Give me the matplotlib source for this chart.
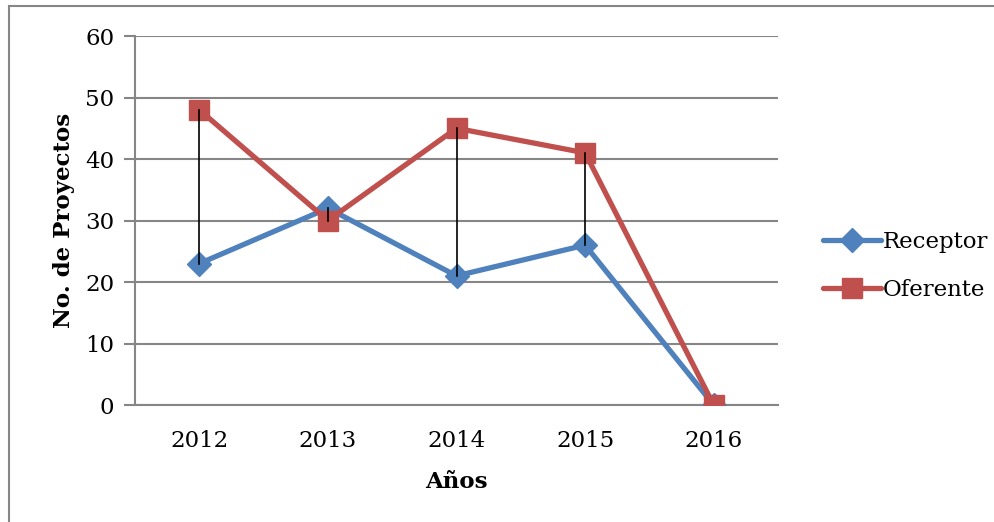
import matplotlib.pyplot as plt
from matplotlib.patches import Rectangle

years = ["2012", "2013", "2014", "2015", "2016"]
receptor = [23, 32, 21, 26, 0]
oferente = [48, 30, 45, 41, 0]

plt.rcParams['font.family'] = ['DejaVu Serif']

fig = plt.figure(figsize=(9.95, 5.22), dpi=100)
ax = fig.add_axes([0.1357, 0.2241, 0.6462, 0.7069])

x = range(len(years))

# high-low lines
for i in x:
    ax.plot([i, i], [min(receptor[i], oferente[i]), max(receptor[i], oferente[i])],
            color="black", lw=1.2, zorder=4)

ax.plot(x, receptor, color="#4F81BD", lw=3.8, marker="D", markersize=12,
        label="Receptor", zorder=3, solid_capstyle="round")
ax.plot(x, oferente, color="#C0504D", lw=3.8, marker="s", markersize=14,
        label="Oferente", zorder=3, solid_capstyle="round")

ax.set_xlim(-0.5, 4.5)
ax.set_ylim(0, 60)
ax.set_yticks(range(0, 61, 10))
ax.set_xticks(list(x))
ax.set_xticklabels(years)
ax.tick_params(axis="x", length=0, labelsize=16.5, pad=18)
ax.tick_params(axis="y", length=8, width=1.5, color="#868686", labelsize=16.5, pad=7)
ax.grid(axis="y", color="#868686", lw=1.5)
ax.set_axisbelow(True)
for s in ["top", "right"]:
    ax.spines[s].set_visible(False)
for s in ["left", "bottom"]:
    ax.spines[s].set_color("#868686")
    ax.spines[s].set_linewidth(1.5)

ax.set_xlabel("Años", fontsize=16.5, fontweight="bold", labelpad=14)
ax.set_ylabel("No. de Proyectos", fontsize=16.5, fontweight="bold", labelpad=7)

ax.legend(loc="center left", bbox_to_anchor=(812 / 995, 1 - 266 / 522),
          bbox_transform=fig.transFigure, frameon=False,
          fontsize=16.5, handlelength=2.5, handletextpad=0.1, labelspacing=1.15,
          borderpad=0)

fig.add_artist(Rectangle((9 / 995, -0.1), 1.2, (522 - 6) / 522 + 0.1,
                         transform=fig.transFigure, fill=False,
                         edgecolor="#868686", lw=1.5))

fig.savefig("out.png", dpi=100)
